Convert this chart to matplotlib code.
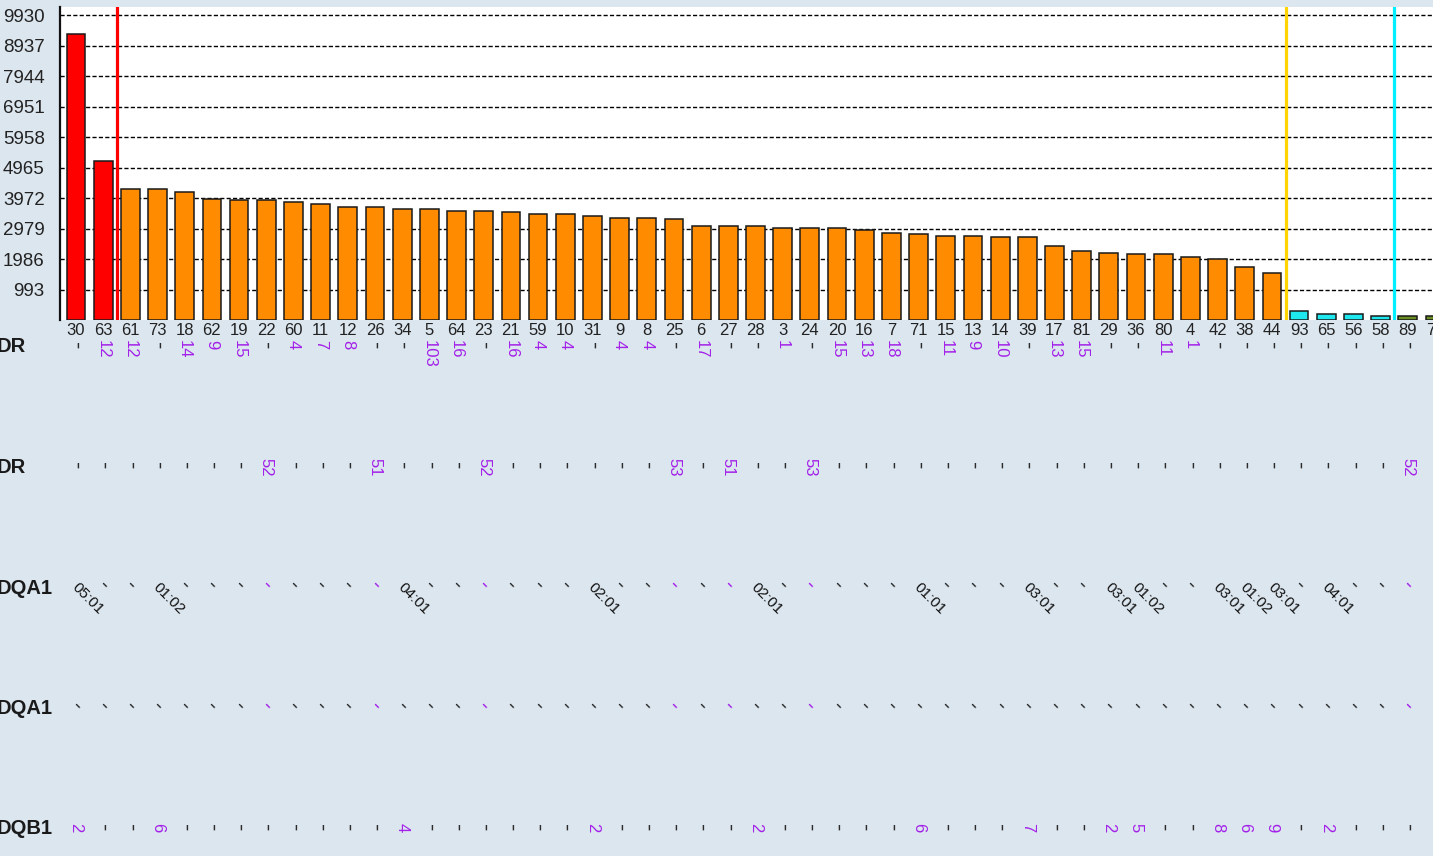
import matplotlib
matplotlib.use("Agg")
import matplotlib.pyplot as plt
from matplotlib import transforms

plt.rcParams['font.family'] = ['Liberation Sans', 'DejaVu Sans']

# ---------------- data ----------------
alleles = ["30", "63", "61", "73", "18", "62", "19", "22", "60", "11", "12", "26", "34",
           "5", "64", "23", "21", "59", "10", "31", "9", "8", "25", "6", "27", "28", "3",
           "24", "20", "16", "7", "71", "15", "13", "14", "39", "17", "81", "29", "36",
           "80", "4", "42", "38", "44", "93", "65", "56", "58", "89", "70"]
values = [9320, 5170, 4280, 4280, 4160, 3935, 3900, 3895, 3835, 3770, 3670, 3670, 3610,
          3605, 3545, 3540, 3535, 3445, 3440, 3380, 3340, 3340, 3280, 3055, 3050, 3050,
          3000, 2995, 2990, 2925, 2840, 2800, 2745, 2740, 2710, 2705, 2400, 2240, 2170,
          2140, 2140, 2055, 2000, 1725, 1545, 290, 185, 180, 125, 125, 125]
groups = ["high"] * 2 + ["mid"] * 43 + ["low"] * 4 + ["lowest"] * 2
group_colors = {"high": "#ff0000", "mid": "#ff8c00", "low": "#1ee8ee", "lowest": "#6b8e23"}
yticks = [993, 1986, 2979, 3972, 4965, 5958, 6951, 7944, 8937, 9930]

row_names = ["DR", "DR", "DQA1", "DQA1", "DQB1"]
dr_a = ["", "12", "12", "", "14", "9", "15", "", "4", "7", "8", "", "", "103", "16", "",
        "16", "4", "4", "", "4", "4", "", "17", "", "", "1", "", "15", "13", "18", "",
        "11", "9", "10", "", "13", "15", "", "", "11", "1", "", "", "", "", "", "", "",
        "", ""]
dr_b = ["", "", "", "", "", "", "", "52", "", "", "", "51", "", "", "", "52", "", "",
        "", "", "", "", "53", "", "51", "", "", "53", "", "", "", "", "", "", "", "",
        "", "", "", "", "", "", "", "", "", "", "", "", "", "52", ""]
dqa1_a = ["05:01", "", "", "01:02", "", "", "", "", "", "", "", "", "04:01", "", "", "",
          "", "", "", "02:01", "", "", "", "", "", "02:01", "", "", "", "", "", "01:01",
          "", "", "", "03:01", "", "", "03:01", "01:02", "", "", "03:01", "01:02",
          "03:01", "", "04:01", "", "", "", ""]
dqb1 = ["2", "", "", "6", "", "", "", "", "", "", "", "", "4", "", "", "", "", "", "",
        "2", "", "", "", "", "", "2", "", "", "", "", "", "6", "", "", "", "7", "", "",
        "2", "5", "", "", "8", "6", "9", "", "2", "", "", "", ""]
divider_pos = [1.5, 44.5, 48.5]
divider_colors = ["#ff0000", "#ffd400", "#00f0ff"]

# ---------------- figure ----------------
W, H = 1433, 856
BG = "#dce6ef"
PURPLE = "#a321e8"
MARK = "#2a2a2a"
fig = plt.figure(figsize=(W / 100, H / 100), dpi=100, facecolor=BG)

n = len(alleles)
x = list(range(n))
x_left, x_right = -0.589, 51.0
pitch = 27.18
ax_left_px = 60
ax_width_px = (x_right - x_left) * pitch
ax = fig.add_axes([ax_left_px / W, 1 - 320 / H, ax_width_px / W, (320 - 7) / H])
ax.set_facecolor("white")

ax.bar(x, values, width=0.69, color=[group_colors[g] for g in groups],
       edgecolor="#1a1a1a", linewidth=1.1, zorder=3)
for xp, c in zip(divider_pos, divider_colors):
    ax.axvline(xp, color=c, lw=2.3, zorder=4)

ax.set_xlim(x_left, x_right)
ax.set_ylim(0, 10200)
ax.set_yticks(yticks)
ax.set_yticklabels([str(v) for v in yticks])
ax.set_xticks(x)
ax.set_xticklabels(alleles)
ax.yaxis.grid(True, color="black", linestyle=(0, (3, 1.6)), linewidth=1.0, zorder=1)
ax.set_axisbelow(True)
ax.tick_params(axis="y", length=0, pad=11, labelsize=13.5, labelcolor="#222222")
ax.tick_params(axis="x", length=0, pad=2, labelsize=12, labelcolor="#222222")
for s in ["top", "right", "bottom"]:
    ax.spines[s].set_visible(False)
ax.spines["left"].set_linewidth(1.6)
ax.spines["left"].set_color("#111111")

trans = transforms.blended_transform_factory(ax.transData, fig.transFigure)


def fy(px):
    return 1 - px / H


# row labels
for name, ypx in zip(row_names, [347, 467, 588, 708, 828]):
    fig.text(-3 / W, fy(ypx), name, ha="left", va="center", fontsize=14.5,
             fontweight="bold", color="#1a1a1a")

purple_idx = [i for i, v in enumerate(dr_b) if v]
MS = 16

for i in x:
    # row 1 (DR)
    if dr_a[i]:
        ax.text(i, fy(340), dr_a[i], transform=trans, rotation=270, ha="center",
                va="top", fontsize=12, color=PURPLE)
    else:
        ax.text(i, fy(346), "-", transform=trans, rotation=270, ha="center",
                va="center", fontsize=MS, color=MARK)
    # row 2 (DR)
    if dr_b[i]:
        ax.text(i, fy(467), dr_b[i], transform=trans, rotation=270, ha="center",
                va="center", fontsize=12, color=PURPLE)
    else:
        ax.text(i, fy(466), "-", transform=trans, rotation=270, ha="center",
                va="center", fontsize=MS, color=MARK)
    mcol = PURPLE if i in purple_idx else MARK
    # row 3 (DQA1)
    if dqa1_a[i]:
        ax.text(i - 0.26, fy(580), dqa1_a[i], transform=trans, rotation=-45,
                ha="left", va="top", fontsize=11, color="#111111")
    else:
        ax.text(i, fy(586), "-", transform=trans, rotation=-45, ha="center",
                va="center", fontsize=MS, color=mcol)
    # row 4 (DQA1)
    ax.text(i, fy(707), "-", transform=trans, rotation=-45, ha="center",
            va="center", fontsize=MS, color=mcol)
    # row 5 (DQB1)
    if dqb1[i]:
        ax.text(i, fy(828), dqb1[i], transform=trans, rotation=270, ha="center",
                va="center", fontsize=12, color=PURPLE)
    else:
        ax.text(i, fy(828), "-", transform=trans, rotation=270, ha="center",
                va="center", fontsize=MS, color=MARK)

fig.savefig("out.png", dpi=100, facecolor=BG)
